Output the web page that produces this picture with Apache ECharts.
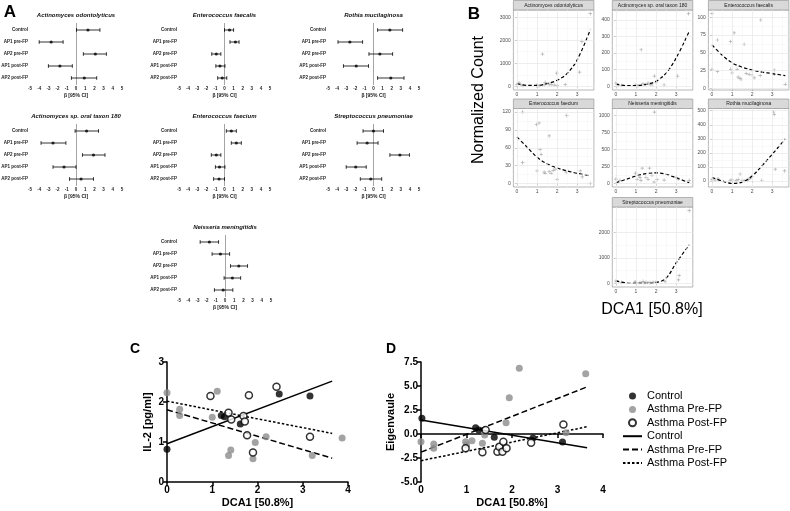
<!DOCTYPE html>
<html><head><meta charset="utf-8">
<script src="https://cdn.jsdelivr.net/npm/echarts@6/dist/echarts.min.js"></script>
<style>html,body{margin:0;padding:0;background:#fff}#c{width:790px;height:511px}</style>
</head><body><div id="c"></div>
<script>
// ================= Panel A : forest plots =================
const forestCats = ['Control','AP1 pre-FP','AP2 pre-FP','AP1 post-FP','AP2 post-FP'];
const forestTicks = [-5,-4,-3,-2,-1,0,1,2,3,4,5];
const odontEst = [1.3,-2.7,2.1,-1.75,0.9];
const odontLo  = [0.05,-4.0,0.8,-3.0,-0.5];
const odontHi  = [2.6,-1.4,3.3,-0.4,2.25];
const faecalisEst = [0.55,1.2,-0.9,-0.5,-0.25];
const faecalisLo  = [0.0,0.6,-1.4,-0.95,-0.75];
const faecalisHi  = [1.0,1.6,-0.4,0.05,0.25];
const rothiaEst = [1.8,-2.6,0.7,-1.9,1.9];
const rothiaLo  = [0.45,-3.9,-0.5,-3.3,0.45];
const rothiaHi  = [3.2,-1.2,2.1,-0.55,3.35];
const taxonEst = [1.15,-2.5,1.9,-1.3,0.55];
const taxonLo  = [-0.1,-3.8,0.7,-2.5,-0.7];
const taxonHi  = [2.45,-1.1,3.15,0.0,1.9];
const faeciumEst = [0.75,1.3,-0.9,-0.55,-0.6];
const faeciumLo  = [0.2,0.75,-1.45,-1.0,-1.2];
const faeciumHi  = [1.3,1.85,-0.4,0.05,0.0];
const pneumoEst = [0.0,-0.7,2.9,-1.95,-0.3];
const pneumoLo  = [-1.15,-1.8,1.8,-3.0,-1.45];
const pneumoHi  = [1.1,0.5,3.95,-0.8,0.9];
const neisEst = [-1.7,-0.5,1.5,0.8,-0.2];
const neisLo  = [-2.7,-1.4,0.6,-0.1,-1.15];
const neisHi  = [-0.7,0.5,2.45,1.7,0.85];

// ================= Panel B : facets =================
const curveX = [0,0.5,1,1.5,2,2.5,3,3.65];
const odontPtX = [0,0.1,0.2,0.3,0.98,1.0,1.1,1.27,1.35,1.4,1.6,1.7,1.85,1.98,2.0,2.4,3.12,3.23,3.65];
const odontPtY = [80,150,60,30,30,40,20,1400,60,175,90,70,50,570,30,75,617,1950,3150];
const odontCurve = [120,40,40,120,260,560,1150,2450];
const taxonPtX = [0,0.1,0.28,0.95,1.0,1.1,1.26,1.35,1.45,1.6,1.7,1.8,1.92,2.0,2.4,3.07,3.62];
const taxonPtY = [20,5,5,5,8,3,220,15,10,20,12,8,62,25,8,62,437];
const taxonCurve = [15,5,5,12,30,80,170,330];
const faecalisPtX = [0,0,0.27,0.27,0.93,0.93,1.0,1.1,1.25,1.3,1.4,1.45,1.6,1.7,1.85,2.0,2.0,2.1,2.4,2.43,3.1,3.1,3.65];
const faecalisPtY = [105,27,68,24,66,27,22,78,27,16,14,13,62,21,20,19,25,15,18,96,26,20,6];
const faecalisCurve = [61,47,36,30,26,23,21,18];
const faeciumPtX = [0.28,0.98,1.1,2.48,1.6,0.28,1.2,1.15,1.0,1.35,1.4,1.6,1.7,1.8,1.9,2.0,2.45,3.15,3.25,3.65];
const faeciumPtY = [120,99,102,114,80,35,49,57,21,19,17,20,17,22,24,7,19,21,11,0];
const faeciumCurve = [78,61,44,33,26,21,17,13];
const neisPtX = [1.92,1.31,1.67,0.98,1.05,1.15,0,0.2,3.65,3.0,3.1,2.4,2.05,1.5,1.2,1.25,1.8,1.6,1.9];
const neisPtY = [1050,227,227,151,60,120,65,45,45,90,65,50,55,90,90,45,120,60,20];
const neisCurve = [10,60,110,145,155,135,85,10];
const rothiaPtX = [3.07,3.1,3.15,3.62,1.4,2.48,2.0,0.9,1.0,1.2,1.3,1.5,1.6,1.75,1.8,0,0.15,1.9,0.3];
const rothiaPtY = [491,473,84,72,48,5,30,5,8,3,10,5,2,6,10,10,5,20,15];
const rothiaCurve = [25,0,-18,-8,35,110,190,300];
const pneumoPtX = [3.65,3.15,3.12,2.45,0.95,1.0,1.2,1.35,1.5,1.7,1.85,2.0,0,0.28,1.4,1.6];
const pneumoPtY = [2840,308,135,68,60,40,30,80,50,30,45,60,90,40,20,25];
const pneumoCurve = [100,20,0,0,30,200,800,1500];
const facetXTicks = [0,1,2,3];

// ================= Panels C & D =================
const fitXRange = [0, 3.65];
const cCtrlX = [0,1.2,1.27,1.62,2.48,3.16];
const cCtrlY = [0.82,1.66,1.63,1.45,2.2,2.15];
const cPreX = [0,0.28,0.28,1.0,1.11,1.36,1.41,1.9,1.95,2.19,3.21,3.87];
const cPreY = [2.23,1.82,1.66,1.62,2.27,0.66,0.8,0.58,0.99,1.13,0.66,1.1];
const cPostX = [0.96,1.36,1.42,1.69,1.72,1.77,1.81,1.9,2.42,3.16];
const cPostY = [2.15,1.73,1.56,1.65,1.51,1.17,2.17,0.74,2.38,1.13];
const dCtrlX = [0.02,1.2,1.27,1.61,2.46,3.11];
const dCtrlY = [1.63,0.66,0.42,-0.35,-0.42,-0.83];
const dPreX = [0,0.28,0.28,0.98,1.0,1.12,1.35,1.4,1.87,1.94,2.16,3.19,3.62];
const dPreY = [-0.8,-1.05,-1.49,-0.8,-1.15,-0.7,-0.97,-0.1,1.18,3.78,6.84,0.14,6.28];
const dPostX = [0.98,1.35,1.42,1.68,1.72,1.79,1.81,1.88,2.42,3.13];
const dPostY = [-1.49,-1.91,0.42,-1.84,-1.32,-1.84,-0.8,-1.49,-0.9,1.0];

// ================= build =================
const FONT = 'Arial, "Liberation Sans", sans-serif';
const grids = [], xAxes = [], yAxes = [], series = [], graphics = [];

const forests = [
  {t:'Actinomyces odontolyticus', est:odontEst, lo:odontLo, hi:odontHi, l:30, top:24, w:92},
  {t:'Enterococcus faecalis', est:faecalisEst, lo:faecalisLo, hi:faecalisHi, l:179, top:24, w:91},
  {t:'Rothia mucilaginosa', est:rothiaEst, lo:rothiaLo, hi:rothiaHi, l:328, top:24, w:91},
  {t:'Actinomyces sp. oral taxon 180', est:taxonEst, lo:taxonLo, hi:taxonHi, l:30, top:125, w:92},
  {t:'Enterococcus faecium', est:faeciumEst, lo:faeciumLo, hi:faeciumHi, l:179, top:125, w:91},
  {t:'Streptococcus pneumoniae', est:pneumoEst, lo:pneumoLo, hi:pneumoHi, l:328, top:125, w:91},
  {t:'Neisseria meningitidis', est:neisEst, lo:neisLo, hi:neisHi, l:179, top:236, w:92}
];

function errRender(params, api) {
  const c = api.value(2);
  const p1 = api.coord([api.value(0), c]);
  const p2 = api.coord([api.value(1), c]);
  const h = 1.8;
  const st = {stroke:'#000', lineWidth:0.8};
  return {type:'group', children:[
    {type:'line', shape:{x1:p1[0],y1:p1[1],x2:p2[0],y2:p2[1]}, style:st},
    {type:'line', shape:{x1:p1[0],y1:p1[1]-h,x2:p1[0],y2:p1[1]+h}, style:st},
    {type:'line', shape:{x1:p2[0],y1:p2[1]-h,x2:p2[0],y2:p2[1]+h}, style:st}
  ]};
}

forests.forEach((f, i) => {
  const gi = grids.length;
  grids.push({left:f.l, top:f.top, width:f.w, height:60, outerBoundsMode:'none'});
  xAxes.push({gridIndex:gi, type:'value', min:forestTicks[0], max:forestTicks[forestTicks.length-1], interval:1,
    axisLine:{lineStyle:{color:'#000', width:0.9}}, axisTick:{length:2, lineStyle:{color:'#000', width:0.8}},
    splitLine:{show:false},
    axisLabel:{fontSize:4.5, fontWeight:'bold', color:'#222', margin:2, fontFamily:FONT},
    name:'β [95% CI]', nameLocation:'middle', nameGap:9,
    nameTextStyle:{fontSize:5, fontWeight:'bold', color:'#222', fontFamily:FONT}});
  yAxes.push({gridIndex:gi, type:'category', data:forestCats, inverse:true,
    axisLine:{lineStyle:{color:'#000', width:0.9}}, axisTick:{alignWithLabel:true, length:2, lineStyle:{color:'#000', width:0.8}},
    splitLine:{show:false},
    axisLabel:{fontSize:4.5, fontWeight:'bold', color:'#222', margin:2, fontFamily:FONT}});
  series.push({type:'custom', xAxisIndex:gi, yAxisIndex:gi, renderItem:errRender,
    encode:{x:[0,1], y:2}, data:forestCats.map((c,k)=>[f.lo[k], f.hi[k], k]), z:3});
  series.push({type:'scatter', xAxisIndex:gi, yAxisIndex:gi, symbolSize:3.2, itemStyle:{color:'#000'},
    data:f.est.map((v,k)=>[v,k]), z:4,
    markLine:{silent:true, symbol:['none','none'], label:{show:false}, lineStyle:{color:'#c8c8c8', type:'solid', width:0.8},
      data:[{xAxis:0}], z:1}});
  graphics.push({type:'text', x:f.l + f.w/2, y:f.top - 9, style:{text:f.t, font:'italic bold 6px ' + FONT, fill:'#111', align:'center', verticalAlign:'middle'}});
});

const facets = [
  {t:'Actinomyces odontolyticus', px:odontPtX, py:odontPtY, cy:odontCurve, l:513.4, top:10, h:80, min:-160, max:3310, ticks:[0,1000,2000,3000], minor:[500,1500,2500]},
  {t:'Actinomyces sp. oral taxon 180', px:taxonPtX, py:taxonPtY, cy:taxonCurve, l:612.3, top:10, h:80, min:-22, max:459, ticks:[0,100,200,300,400], minor:[50,150,250,350,450]},
  {t:'Enterococcus faecalis', px:faecalisPtX, py:faecalisPtY, cy:faecalisCurve, l:708.4, top:10, h:80, min:-2, max:110, ticks:[0,25,50,75,100], minor:[12.5,37.5,62.5,87.5]},
  {t:'Enterococcus faecium', px:faeciumPtX, py:faeciumPtY, cy:faeciumCurve, l:513.4, top:108.5, h:78.5, min:-6, max:126, ticks:[0,30,60,90,120], minor:[15,45,75,105]},
  {t:'Neisseria meningitidis', px:neisPtX, py:neisPtY, cy:neisCurve, l:612.3, top:108.5, h:78.5, min:-52, max:1102, ticks:[0,250,500,750,1000], minor:[125,375,625,875]},
  {t:'Rothia mucilaginosa', px:rothiaPtX, py:rothiaPtY, cy:rothiaCurve, l:708.4, top:108.5, h:78.5, min:-43, max:516, ticks:[0,100,200,300,400,500], minor:[50,150,250,350,450]},
  {t:'Streptococcus pneumoniae', px:pneumoPtX, py:pneumoPtY, cy:pneumoCurve, l:612.3, top:207, h:80, min:-142, max:2982, ticks:[0,1000,2000], minor:[500,1500,2500]}
];
const PLUS = 'path://M2,0H3V2H5V3H3V5H2V3H0V2H2Z';
const plainFmt = v => String(Math.round(v * 100) / 100);
facets.forEach(f => {
  const gi = grids.length;
  const w = 80.5;
  grids.push({left:f.l, top:f.top, width:w, height:f.h, show:true, backgroundColor:'#fff', borderColor:'#9a9a9a', borderWidth:0.7, outerBoundsMode:'none'});
  xAxes.push({gridIndex:gi, type:'value', min:-0.18, max:3.83,
    axisLine:{show:false}, splitLine:{show:false},
    axisTick:{length:2, customValues:facetXTicks, lineStyle:{color:'#555', width:0.6}},
    axisLabel:{fontSize:5, color:'#4d4d4d', margin:2.5, customValues:facetXTicks, formatter:plainFmt, fontFamily:FONT}});
  yAxes.push({gridIndex:gi, type:'value', min:f.min, max:f.max,
    axisLine:{show:false}, splitLine:{show:false},
    axisTick:{length:2, customValues:f.ticks, lineStyle:{color:'#555', width:0.6}},
    axisLabel:{fontSize:5, color:'#4d4d4d', margin:2.5, customValues:f.ticks, formatter:plainFmt, fontFamily:FONT}});
  const gl = [];
  [0.5,1.5,2.5,3.5].forEach(v=>gl.push({xAxis:v, lineStyle:{color:'#f2f2f2', width:0.5, type:'solid'}}));
  f.minor.forEach(v=>gl.push({yAxis:v, lineStyle:{color:'#f2f2f2', width:0.5, type:'solid'}}));
  facetXTicks.forEach(v=>gl.push({xAxis:v, lineStyle:{color:'#e6e6e6', width:0.7, type:'solid'}}));
  f.ticks.forEach(v=>gl.push({yAxis:v, lineStyle:{color:'#e6e6e6', width:0.7, type:'solid'}}));
  series.push({type:'line', xAxisIndex:gi, yAxisIndex:gi, data:[[0, f.ticks[0]]], symbol:'none', lineStyle:{opacity:0}, z:1,
    markLine:{silent:true, symbol:['none','none'], label:{show:false}, data:gl}});
  series.push({type:'scatter', xAxisIndex:gi, yAxisIndex:gi, symbol:PLUS, symbolSize:3.6,
    itemStyle:{color:'#9d9d9d'}, data:f.px.map((x,k)=>[x, f.py[k]]), z:3});
  series.push({type:'line', xAxisIndex:gi, yAxisIndex:gi, smooth:0.35, symbol:'none',
    lineStyle:{color:'#000', width:1.2, type:[3.5,2.2]}, data:curveX.map((x,k)=>[x, f.cy[k]]), z:4});
  graphics.push({type:'rect', shape:{x:f.l, y:f.top-9.5, width:w, height:9.5}, style:{fill:'#d9d9d9', stroke:'#9a9a9a', lineWidth:0.7}});
  graphics.push({type:'text', x:f.l + w/2, y:f.top - 4.7, style:{text:f.t, font:'5px ' + FONT, fill:'#1a1a1a', align:'center', verticalAlign:'middle'}});
});

// Panels C and D
function linreg(xs, ys) {
  const n = xs.length;
  const mx = xs.reduce((a,b)=>a+b,0)/n, my = ys.reduce((a,b)=>a+b,0)/n;
  let sxy = 0, sxx = 0;
  for (let i=0;i<n;i++){ sxy += (xs[i]-mx)*(ys[i]-my); sxx += (xs[i]-mx)*(xs[i]-mx); }
  const m = sxy/sxx, b = my - m*mx;
  return fitXRange.map(x => [x, b + m*x]);
}
const axStyle = {lineStyle:{color:'#000', width:1.5}};
const tickStyle = {length:4, lineStyle:{color:'#000', width:1.5}};
const labStyle = {fontSize:10, fontWeight:'bold', color:'#000', fontFamily:FONT, margin:3};
const nameStyle = {fontSize:11, fontWeight:'bold', color:'#000', fontFamily:FONT};
const panels = [
  {l:167, w:181, ymin:0, ymax:3, yint:1, yname:'IL-2 [pg/ml]', gap:14, fmt:v=>String(v),
   ctrl:[cCtrlX,cCtrlY], pre:[cPreX,cPreY], post:[cPostX,cPostY]},
  {l:421, w:182, ymin:-5, ymax:7.5, yint:2.5, yname:'Eigenvaule', gap:23, fmt:v=>v.toFixed(1),
   ctrl:[dCtrlX,dCtrlY], pre:[dPreX,dPreY], post:[dPostX,dPostY]}
];
panels.forEach(p => {
  const gi = grids.length;
  grids.push({left:p.l, top:362, width:p.w, height:120, outerBoundsMode:'none'});
  xAxes.push({gridIndex:gi, type:'value', min:0, max:4, interval:1, axisLine:axStyle, axisTick:tickStyle,
    splitLine:{show:false}, axisLabel:labStyle, name:'DCA1 [50.8%]', nameLocation:'middle', nameGap:15, nameTextStyle:nameStyle});
  yAxes.push({gridIndex:gi, type:'value', min:p.ymin, max:p.ymax, interval:p.yint, axisLine:axStyle, axisTick:tickStyle,
    splitLine:{show:false}, axisLabel:Object.assign({}, labStyle, {formatter:p.fmt}),
    name:p.yname, nameLocation:'middle', nameGap:p.gap, nameTextStyle:nameStyle});
  series.push({type:'line', name:'Control_L', xAxisIndex:gi, yAxisIndex:gi, symbol:'none', z:2,
    lineStyle:{color:'#000', width:1.5, type:'solid'}, itemStyle:{color:'#000'}, data:linreg(p.ctrl[0], p.ctrl[1])});
  series.push({type:'line', name:'Asthma Pre-FP_L', xAxisIndex:gi, yAxisIndex:gi, symbol:'none', z:2,
    lineStyle:{color:'#000', width:1.5, type:[6,3]}, itemStyle:{color:'#000'}, data:linreg(p.pre[0], p.pre[1])});
  series.push({type:'line', name:'Asthma Post-FP_L', xAxisIndex:gi, yAxisIndex:gi, symbol:'none', z:2,
    lineStyle:{color:'#000', width:1.5, type:[2.5,2]}, itemStyle:{color:'#000'}, data:linreg(p.post[0], p.post[1])});
  series.push({type:'scatter', name:'Control', xAxisIndex:gi, yAxisIndex:gi, symbolSize:7, z:4,
    itemStyle:{color:'#000'}, data:p.ctrl[0].map((x,k)=>[x,p.ctrl[1][k]])});
  series.push({type:'scatter', name:'Asthma Pre-FP', xAxisIndex:gi, yAxisIndex:gi, symbolSize:7, z:4,
    itemStyle:{color:'#8c8c8c'}, data:p.pre[0].map((x,k)=>[x,p.pre[1][k]])});
  series.push({type:'scatter', name:'Asthma Post-FP', xAxisIndex:gi, yAxisIndex:gi, symbolSize:7, z:5,
    itemStyle:{color:'#fff', borderColor:'#000', borderWidth:1.5}, data:p.post[0].map((x,k)=>[x,p.post[1][k]])});
});

// panel letters and shared labels
graphics.push({type:'text', x:10, y:12, style:{text:'A', font:'bold 17px ' + FONT, fill:'#000', align:'center', verticalAlign:'middle'}});
graphics.push({type:'text', x:474, y:14, style:{text:'B', font:'bold 17px ' + FONT, fill:'#000', align:'center', verticalAlign:'middle'}});
graphics.push({type:'text', x:135, y:349, style:{text:'C', font:'bold 14px ' + FONT, fill:'#000', align:'center', verticalAlign:'middle'}});
graphics.push({type:'text', x:391, y:349, style:{text:'D', font:'bold 14px ' + FONT, fill:'#000', align:'center', verticalAlign:'middle'}});
graphics.push({type:'text', x:479, y:100, rotation:Math.PI/2, style:{text:'Normalized Count', font:'16px ' + FONT, fill:'#000', align:'center', verticalAlign:'middle'}});
graphics.push({type:'text', x:652, y:310, style:{text:'DCA1 [50.8%]', font:'16px ' + FONT, fill:'#000', align:'center', verticalAlign:'middle'}});

const chart = echarts.init(document.getElementById('c'), null, {renderer:'canvas'});
const hideSym = {opacity:0};
chart.setOption({
  animation:false,
  backgroundColor:'#fff',
  grid:grids, xAxis:xAxes, yAxis:yAxes, series:series,
  graphic:{elements:graphics},
  legend:{orient:'vertical', left:617, top:385.5, itemWidth:19, itemHeight:7, itemGap:2.4,
    textStyle:{fontSize:11, fontFamily:FONT, color:'#000'},
    formatter:n=>n.replace('_L',''),
    data:[{name:'Control', icon:'circle'},{name:'Asthma Pre-FP', icon:'circle'},{name:'Asthma Post-FP', icon:'circle'},
      {name:'Control_L', itemStyle:hideSym},{name:'Asthma Pre-FP_L', itemStyle:hideSym},{name:'Asthma Post-FP_L', itemStyle:hideSym}]}
});
</script></body></html>
